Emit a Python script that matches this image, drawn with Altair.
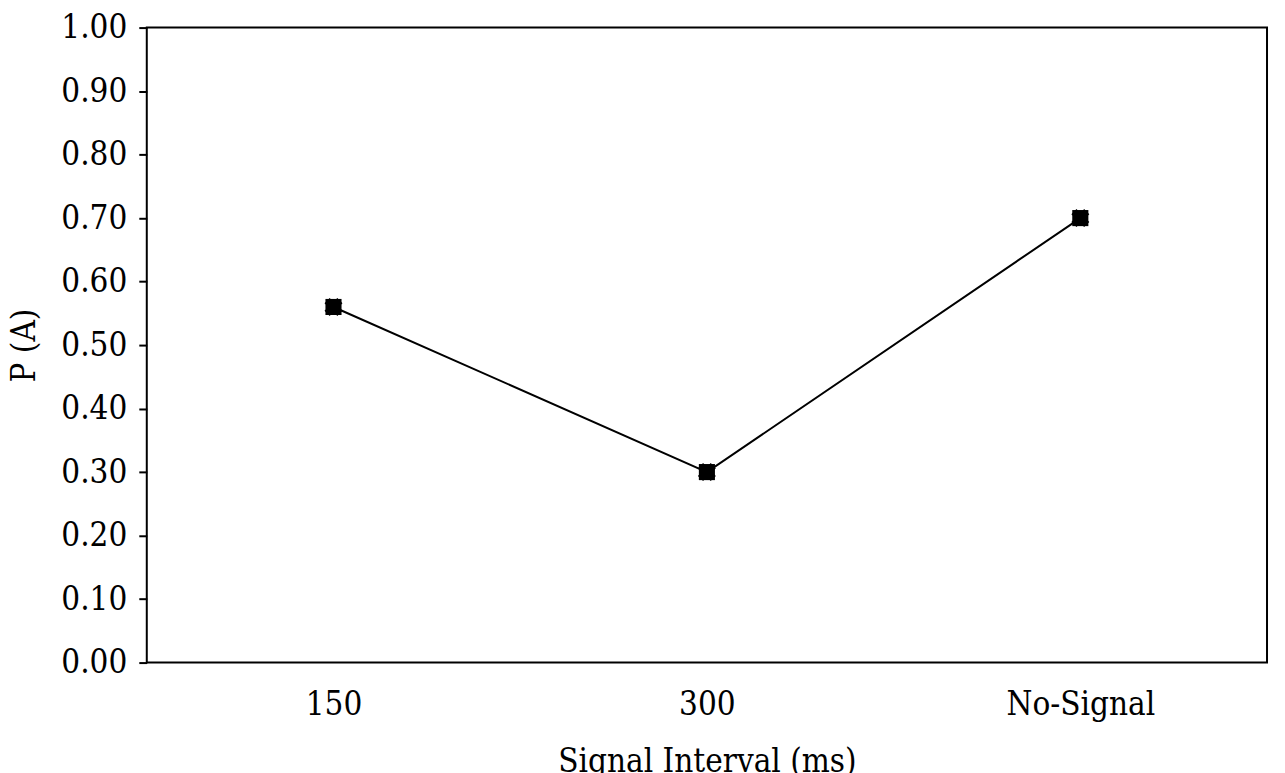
import altair as alt
import pandas as pd

categories = ["150", "300", "No-Signal"]
values = [0.56, 0.30, 0.70]

df = pd.DataFrame({"interval": categories, "pa": values})

FONT = "DejaVu Serif Condensed, DejaVu Serif"
FS = 33

x = alt.X("interval:N", sort=categories,
          scale=alt.Scale(type="point", padding=0.5),
          axis=alt.Axis(title="Signal Interval (ms)", labelAngle=0, ticks=False,
                        domain=False, labelFontSize=FS, titleFontSize=FS,
                        labelFont=FONT, titleFont=FONT, labelColor="black",
                        titleColor="black", titleFontWeight="normal",
                        labelPadding=26, titlePadding=24))
y = alt.Y("pa:Q", scale=alt.Scale(domain=[0, 1]),
          axis=alt.Axis(title="P (A)", values=[i / 10 for i in range(11)],
                        format=".2f", grid=False, domain=False,
                        tickSize=8, tickWidth=2, tickColor="black",
                        labelFontSize=FS, titleFontSize=FS, labelFont=FONT,
                        titleFont=FONT, labelColor="black", titleColor="black",
                        titleFontWeight="normal", labelPadding=12, titlePadding=19))

base = alt.Chart(df).encode(x=x, y=y)

line = base.mark_line(color="black", strokeWidth=2)
xmark = base.mark_point(shape="cross", angle=45, size=330, filled=True,
                        color="black", opacity=1)
square = base.mark_point(shape="square", size=260, filled=True,
                         color="black", opacity=1)

chart = (line + xmark + square).properties(
    width=1122, height=636, padding={"left": 0, "top": 3, "right": 10, "bottom": 5}
).configure(background="white").configure_view(stroke="black", strokeWidth=2)

chart.save("out.html", embed_options={"renderer": "svg", "actions": False})
